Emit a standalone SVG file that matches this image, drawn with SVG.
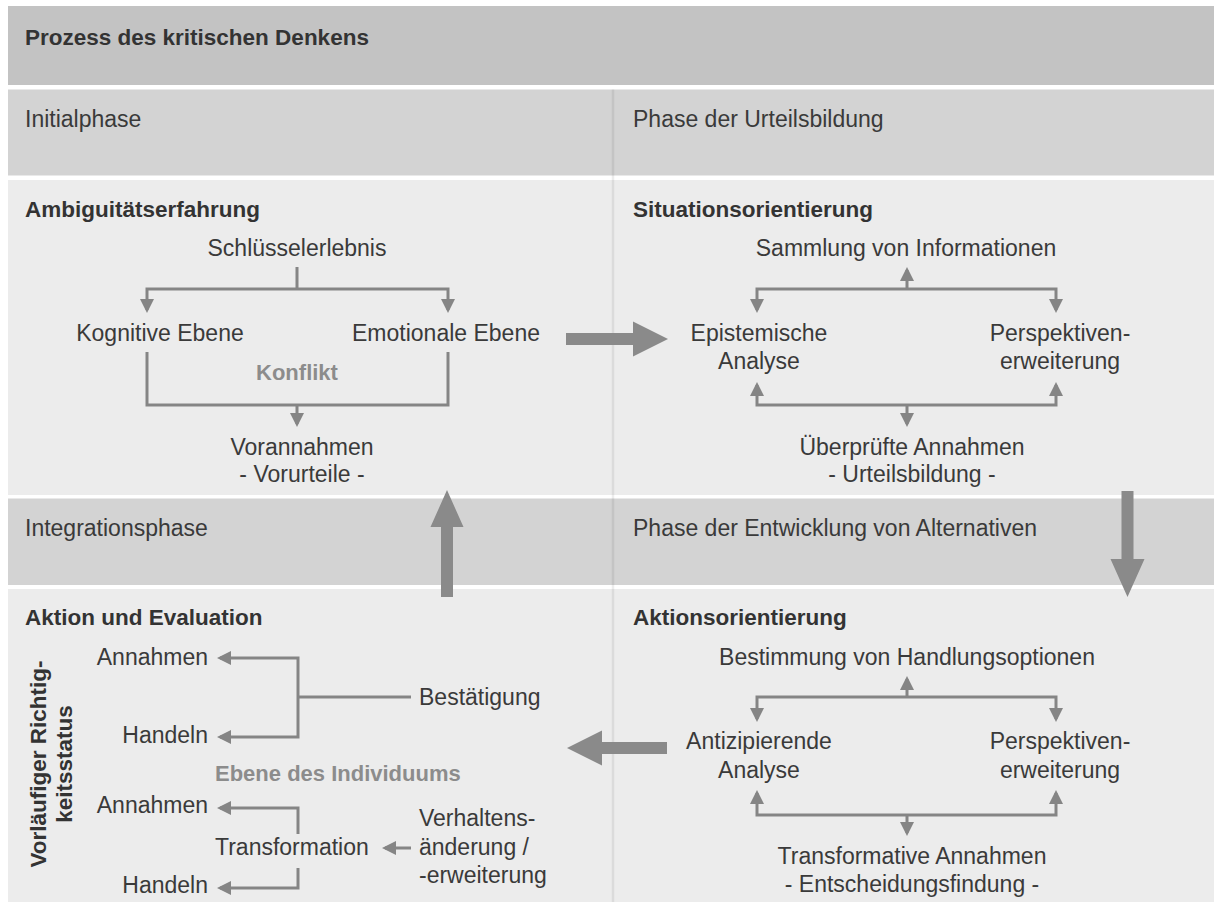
<svg xmlns="http://www.w3.org/2000/svg" width="1214" height="905" viewBox="0 0 1214 905">
  <defs>
    <style>
      text { font-family: "Liberation Sans", Arial, sans-serif; }
      .t { font-size: 23px; fill: #3a3a3a; }
      .c { text-anchor: middle; }
      .e { text-anchor: end; }
      .b { font-size: 22.5px; font-weight: bold; fill: #333333; }
      .g { font-size: 22px; font-weight: bold; fill: #8c8c8c; }
      .hdr { fill: #c3c3c3; }
      .phase { fill: #d3d3d3; }
      .body { fill: #ececec; }
      .conn { fill: none; stroke: #858585; stroke-width: 3; }
      .big { fill: #8a8a8a; }
    </style>
    <marker id="ah" viewBox="0 0 14 14" refX="11" refY="7" markerWidth="14" markerHeight="14" markerUnits="userSpaceOnUse" orient="auto">
      <path d="M0,0 L14,7 L0,14 z" fill="#858585"/>
    </marker>
  </defs>

  <rect width="1214" height="905" fill="#ffffff"/>

  <!-- bands -->
  <g id="bands">
    <rect class="hdr" x="8" y="6" width="1206" height="79"/>
    <rect class="phase" x="8" y="89.5" width="1206" height="86"/>
    <rect class="body" x="8" y="180" width="1206" height="315"/>
    <rect class="phase" x="8" y="498.5" width="1206" height="86.5"/>
    <rect class="body" x="8" y="589" width="1206" height="313"/>
    <line x1="613" y1="89.5" x2="613" y2="902" stroke="#000" stroke-opacity="0.07" stroke-width="2.5"/>
  </g>

  <g id="title">
    <text class="b" x="25" y="45">Prozess des kritischen Denkens</text>
  </g>

  <g id="phases">
    <text class="t" x="25" y="127">Initialphase</text>
    <text class="t" x="633" y="127">Phase der Urteilsbildung</text>
    <text class="t" x="25" y="536">Integrationsphase</text>
    <text class="t" x="633" y="536">Phase der Entwicklung von Alternativen</text>
  </g>

  <!-- quadrant: Ambiguitätserfahrung -->
  <g id="ambiguitaet">
    <text class="b" x="25" y="217">Ambiguitätserfahrung</text>
    <text class="t c" x="297" y="256">Schlüsselerlebnis</text>
    <text class="t c" x="160" y="341">Kognitive Ebene</text>
    <text class="t c" x="446" y="341">Emotionale Ebene</text>
    <text class="g c" x="297" y="380">Konflikt</text>
    <text class="t c" x="302" y="455">Vorannahmen</text>
    <text class="t c" x="302" y="482">- Vorurteile -</text>
  </g>

  <!-- quadrant: Situationsorientierung -->
  <g id="situation">
    <text class="b" x="633" y="217">Situationsorientierung</text>
    <text class="t c" x="906" y="256">Sammlung von Informationen</text>
    <text class="t c" x="759" y="341">Epistemische</text>
    <text class="t c" x="759" y="369">Analyse</text>
    <text class="t c" x="1060" y="341">Perspektiven-</text>
    <text class="t c" x="1060" y="369">erweiterung</text>
    <text class="t c" x="912" y="455">Überprüfte Annahmen</text>
    <text class="t c" x="912" y="482">- Urteilsbildung -</text>
  </g>

  <!-- quadrant: Aktion und Evaluation -->
  <g id="aktion-evaluation">
    <text class="b" x="25" y="625">Aktion und Evaluation</text>
    <text class="b c" transform="translate(46,764) rotate(-90)">Vorläufiger Richtig-</text>
    <text class="b c" transform="translate(72,764) rotate(-90)">keitsstatus</text>
    <text class="t e" x="208" y="665">Annahmen</text>
    <text class="t e" x="208" y="743">Handeln</text>
    <text class="t" x="419" y="705">Bestätigung</text>
    <text class="g" x="215" y="781">Ebene des Individuums</text>
    <text class="t e" x="208" y="813">Annahmen</text>
    <text class="t" x="215" y="855">Transformation</text>
    <text class="t e" x="208" y="893">Handeln</text>
    <text class="t" x="419" y="826">Verhaltens-</text>
    <text class="t" x="419" y="855">änderung /</text>
    <text class="t" x="419" y="883">-erweiterung</text>
  </g>

  <!-- quadrant: Aktionsorientierung -->
  <g id="aktionsorientierung">
    <text class="b" x="633" y="625">Aktionsorientierung</text>
    <text class="t c" x="907" y="665">Bestimmung von Handlungsoptionen</text>
    <text class="t c" x="759" y="749">Antizipierende</text>
    <text class="t c" x="759" y="778">Analyse</text>
    <text class="t c" x="1060" y="749">Perspektiven-</text>
    <text class="t c" x="1060" y="778">erweiterung</text>
    <text class="t c" x="912" y="864">Transformative Annahmen</text>
    <text class="t c" x="912" y="892">- Entscheidungsfindung -</text>
  </g>

  <!-- connectors -->
  <g id="connectors">
    <!-- Ambiguitätserfahrung -->
    <path class="conn" d="M297,267 V289"/>
    <path class="conn" d="M297,289 H147 V310" marker-end="url(#ah)"/>
    <path class="conn" d="M297,289 H448 V310" marker-end="url(#ah)"/>
    <path class="conn" d="M147,352 V405 H448 V352"/>
    <path class="conn" d="M297,405 V424" marker-end="url(#ah)"/>

    <!-- Situationsorientierung -->
    <path class="conn" d="M907,289 V270" marker-end="url(#ah)"/>
    <path class="conn" d="M907,289 H757 V310" marker-end="url(#ah)"/>
    <path class="conn" d="M907,289 H1056 V310" marker-end="url(#ah)"/>
    <path class="conn" d="M907,405 H757 V385" marker-end="url(#ah)"/>
    <path class="conn" d="M907,405 H1056 V385" marker-end="url(#ah)"/>
    <path class="conn" d="M907,405 V424" marker-end="url(#ah)"/>

    <!-- Aktionsorientierung -->
    <path class="conn" d="M907,697 V679" marker-end="url(#ah)"/>
    <path class="conn" d="M907,697 H757 V719" marker-end="url(#ah)"/>
    <path class="conn" d="M907,697 H1056 V719" marker-end="url(#ah)"/>
    <path class="conn" d="M907,815 H757 V793" marker-end="url(#ah)"/>
    <path class="conn" d="M907,815 H1056 V793" marker-end="url(#ah)"/>
    <path class="conn" d="M907,815 V833" marker-end="url(#ah)"/>

    <!-- Aktion und Evaluation -->
    <path class="conn" d="M298,697 H411"/>
    <path class="conn" d="M298,697 V658 H220" marker-end="url(#ah)"/>
    <path class="conn" d="M298,697 V737 H220" marker-end="url(#ah)"/>
    <path class="conn" d="M298,834 V808 H220" marker-end="url(#ah)"/>
    <path class="conn" d="M411,848 H385" marker-end="url(#ah)"/>
    <path class="conn" d="M298,868 V888 H220" marker-end="url(#ah)"/>

    <!-- phase transitions -->
    <polygon class="big" points="566,333 633,333 633,321.5 668,339 633,356.5 633,345 566,345"/>
    <polygon class="big" points="1121.5,491 1133.5,491 1133.5,559 1144.5,559 1127.5,597 1110.5,559 1121.5,559"/>
    <polygon class="big" points="667,742 602,742 602,730.5 567,748 602,765.5 602,754 667,754"/>
    <polygon class="big" points="441,597 453,597 453,527 463.5,527 447,490 430.5,527 441,527"/>
  </g>
</svg>
